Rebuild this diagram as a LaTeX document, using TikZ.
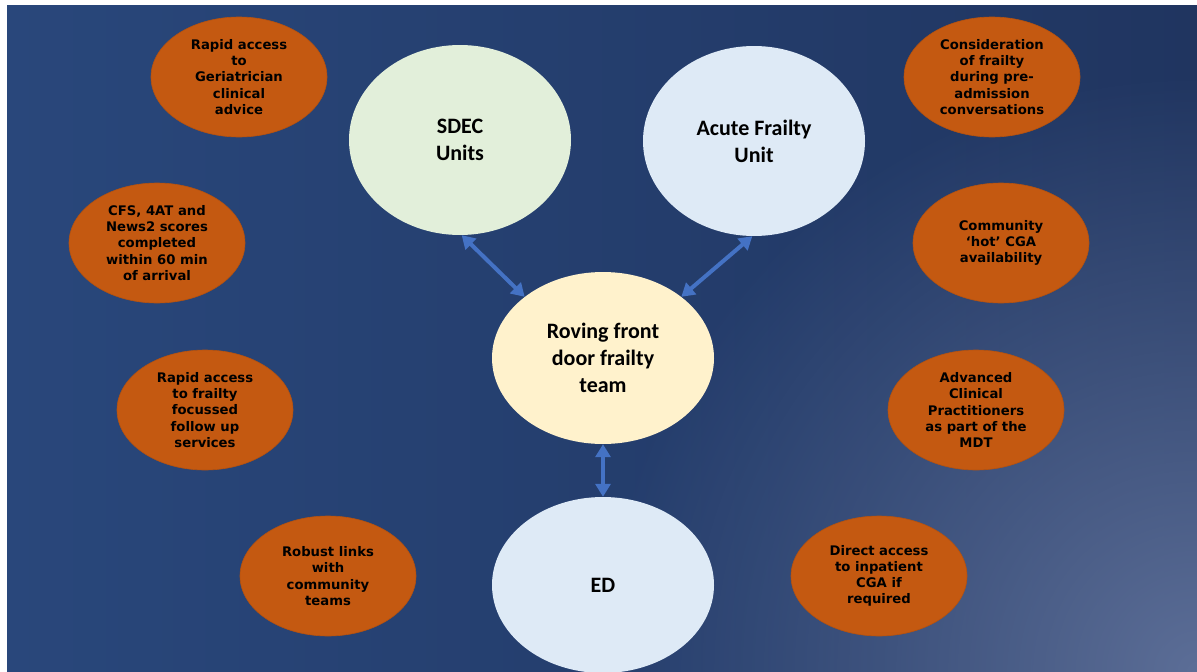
\documentclass[tikz,border=0pt]{standalone}
\usepackage{fontspec}
\usepackage{tikz}
\usetikzlibrary{shapes.geometric,arrows.meta,positioning,fadings}
\newfontfamily\verd{DejaVu Sans}
\newfontfamily\calib{Carlito}
\definecolor{bgleft}{HTML}{29477B}
\definecolor{bgright}{HTML}{203560}
\definecolor{bglight}{HTML}{5C6E97}
\definecolor{orangefill}{HTML}{C45911}
\definecolor{orangeline}{HTML}{B5520F}
\definecolor{sdecfill}{HTML}{E2EFDA}
\definecolor{bluefill}{HTML}{DEEAF6}
\definecolor{rovefill}{HTML}{FFF2CC}
\definecolor{arrowblue}{HTML}{4472C4}
\tikzstyle{arrow} = [line width=4pt, <->, >={Triangle[width=15pt,length=13pt]}, arrowblue]
\tikzfading[name=glow, inner color=transparent!0, outer color=transparent!100]

\begin{document}
\begin{tikzpicture}[x=1pt,y=-1pt]
\tikzset{spot/.style={ellipse,fill=orangefill,draw=orangeline,line width=0.6pt,minimum width=176pt,minimum height=120pt,inner sep=0pt,align=center,font=\verd\bfseries\fontsize{13.2}{16.2}\selectfont}}
\tikzset{unit/.style={ellipse,minimum width=222pt,minimum height=190pt,inner sep=0pt,align=center,font=\calib\bfseries\fontsize{22}{27}\selectfont}}
\useasboundingbox (0,0) rectangle (1197,672);
\fill[white] (0,0) rectangle (1197,672);
% background
\begin{scope}
\clip (7,5) rectangle (1197,672);
\shade[left color=bgleft, right color=bgright] (7,5) rectangle (1197,672);
\fill[bglight, path fading=glow] (1197,672) circle (600);
\end{scope}

% main units
\node[unit,fill=sdecfill] (sdec) at (460,140) {SDEC\\Units};
\node[unit,fill=bluefill] (afu) at (754,141) {Acute Frailty\\Unit};
\node[unit,fill=rovefill,minimum height=172pt] (rove) at (603,358) {Roving front\\door frailty\\team};
\node[unit,fill=bluefill,minimum height=176pt] (ed) at (603,585) {ED};

\draw[arrow] (sdec.-89) -- (rove.142);
\draw[arrow] (afu.-91) -- (rove.38);
\draw[arrow] (rove.south) -- (ed.north);

% left side
\node[spot] (gericall) at (239,77) {Rapid access\\to\\Geriatrician\\clinical\\advice};
\node[spot] (scores) at (157,243) {CFS, 4AT and\\News2 scores\\completed\\within 60 min\\of arrival};
\node[spot] (followup) at (205,410) {Rapid access\\to frailty\\focussed\\follow up\\services};
\node[spot] (links) at (328,576) {Robust links\\with\\community\\teams};

% right side
\node[spot] (preadmit) at (992,77) {Consideration\\of frailty\\during pre-\\admission\\conversations};
\node[spot] (hotcga) at (1001,243) {Community\\‘hot’ CGA\\availability};
\node[spot] (acp) at (976,410) {Advanced\\Clinical\\Practitioners\\as part of the\\MDT};
\node[spot] (inpatient) at (879,576) {Direct access\\to inpatient\\CGA if\\required};
\end{tikzpicture}
\end{document}
